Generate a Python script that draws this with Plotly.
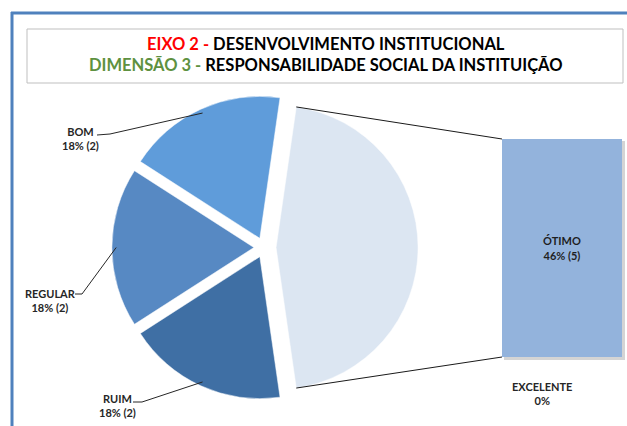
import math
import plotly.graph_objects as go

W, H = 627, 426

# dados
categorias = ["BOM", "REGULAR", "RUIM", "ÓTIMO", "EXCELENTE"]
respostas = [2, 2, 2, 5, 0]
percentuais = ["18%", "18%", "18%", "46%", "0%"]

# fatias da pizza (as duas últimas categorias vão para a barra)
pizza_labels = ["Outros", "RUIM", "REGULAR", "BOM"]
pizza_valores = [respostas[3] + respostas[4], respostas[2], respostas[1], respostas[0]]
pizza_cores = ["#DCE6F2", "#3F6FA4", "#5789C3", "#5F9CDA"]
pizza_pull = [0.085, 0.071, 0.071, 0.071]

barra_labels = ["ÓTIMO", "EXCELENTE"]
barra_valores = [respostas[3], respostas[4]]


def px(x):
    return x / W


def py(y):
    return 1 - y / H


total = sum(pizza_valores)
rotacao = 90 - 180 * pizza_valores[0] / total

# geometria da pizza em pixels
cx, cy, r = 264, 247.5, 142
meia = r * (1 + max(pizza_pull))

# geometria da barra em pixels
bx0, bx1, by0, by1 = 502, 622, 139, 357

fig = go.Figure()

fig.add_trace(go.Pie(
    labels=pizza_labels, values=pizza_valores, sort=False, direction="clockwise",
    rotation=rotacao, pull=pizza_pull, textinfo="none",
    marker=dict(colors=pizza_cores, line=dict(color="white", width=0.5)),
    domain=dict(x=[px(cx - meia), px(cx + meia)], y=[py(cy + meia), py(cy - meia)]),
    showlegend=False, hoverinfo="label+value+percent"
))

textos_barra = [f"<b>{barra_labels[0]}<br>{percentuais[3]} ({barra_valores[0]})</b>", ""]
for lab, val, txt in zip(barra_labels, barra_valores, textos_barra):
    fig.add_trace(go.Bar(
        x=["barra"], y=[val], name=lab, text=[txt], textposition="inside",
        insidetextanchor="middle", textfont=dict(family="Lato", size=11, color="#1F1F1F"),
        marker=dict(color="#93B3DC", line=dict(width=0)), showlegend=False
    ))


# ângulos das fatias (sentido horário a partir das 12h) -> ponto em pixels
def ponto_fatia(i, frac_raio):
    ini = rotacao + 360 * sum(pizza_valores[:i]) / total
    meio = ini + 180 * pizza_valores[i] / total
    a = math.radians(90 - meio)
    d = r * (pizza_pull[i] + frac_raio)
    return cx + d * math.cos(a), cy - d * math.sin(a)


def canto_outros(sinal):
    a = math.radians(sinal * 180 * pizza_valores[0] / total)
    ox = cx + r * pizza_pull[0]
    return ox + r * math.cos(a), cy - r * math.sin(a)


shapes = []
# moldura azul
shapes.append(dict(type="line", xref="paper", yref="paper", x0=px(12), x1=px(12), y0=py(12), y1=py(430),
                   line=dict(color="#4F81BD", width=3)))
shapes.append(dict(type="line", xref="paper", yref="paper", x0=px(11), x1=px(630), y0=py(13), y1=py(13),
                   line=dict(color="#4F81BD", width=3)))
# caixa do título
shapes.append(dict(type="rect", xref="paper", yref="paper", x0=px(27), x1=px(623), y0=py(83), y1=py(29),
                   line=dict(color="#BFBFBF", width=1)))
# sombra da barra
shapes.append(dict(type="rect", xref="paper", yref="paper", layer="below",
                   x0=px(bx0 + 2), x1=px(bx1 + 3), y0=py(by1 + 3), y1=py(by0 + 2),
                   line=dict(width=0), fillcolor="#D4D4D4"))
# ligações pizza -> barra
tx, ty = canto_outros(1)
shapes.append(dict(type="line", xref="paper", yref="paper", x0=px(tx), y0=py(ty), x1=px(bx0), y1=py(by0),
                   line=dict(color="#1A1A1A", width=1)))
bx, byy = canto_outros(-1)
shapes.append(dict(type="line", xref="paper", yref="paper", x0=px(bx), y0=py(byy), x1=px(bx0), y1=py(by1),
                   line=dict(color="#1A1A1A", width=1)))

# rótulos com linhas de chamada: (índice da fatia, centro do texto, início da linha)
rotulos = [
    (3, (80.5, 138), (97, 135), (110, 134)),
    (2, (50, 300), (75, 294), (82, 294)),
    (1, (117, 405.5), (133, 402), (142, 402)),
]
annotations = []
for i, (tx_, ty_), p0, p1 in rotulos:
    ex, ey = ponto_fatia(i, 0.97)
    shapes.append(dict(type="path", xref="paper", yref="paper",
                       path=f"M {px(p0[0])},{py(p0[1])} L {px(p1[0])},{py(p1[1])} L {px(ex)},{py(ey)}",
                       line=dict(color="#262626", width=1)))
    k = categorias.index(pizza_labels[i])
    annotations.append(dict(xref="paper", yref="paper", x=px(tx_), y=py(ty_), showarrow=False,
                            xanchor="center", yanchor="middle",
                            text=f"<b>{categorias[k]}<br>{percentuais[k]} ({respostas[k]})</b>",
                            font=dict(family="Lato", size=11, color="#262626"), align="center"))

annotations.append(dict(xref="paper", yref="paper", x=px(542), y=py(393.5), showarrow=False,
                        xanchor="center", yanchor="middle",
                        text=f"<b>{categorias[4]}<br>{percentuais[4]}</b>",
                        font=dict(family="Lato", size=11, color="#262626"), align="center"))

# título
annotations.append(dict(
    xref="paper", yref="paper", x=px(325), y=py(54.5), showarrow=False, align="center",
    xanchor="center", yanchor="middle",
    text=("<b><span style='color:#FF0000'>EIXO 2 - </span>DESENVOLVIMENTO INSTITUCIONAL<br>"
          "<span style='color:#5E9140'>DIMENSÃO 3 - </span>RESPONSABILIDADE SOCIAL DA INSTITUIÇÃO</b>"),
    font=dict(family="Lato", size=16.5, color="#000000")
))

fig.update_layout(
    width=W, height=H, margin=dict(l=0, r=0, t=0, b=0),
    paper_bgcolor="white", plot_bgcolor="rgba(0,0,0,0)",
    barmode="stack", bargap=0,
    xaxis=dict(domain=[px(bx0), px(bx1)], visible=False),
    yaxis=dict(domain=[py(by1), py(by0)], range=[0, sum(barra_valores)], visible=False),
    shapes=shapes, annotations=annotations
)

fig.write_html("out.html", config={"displayModeBar": False},
               post_script="document.body.style.margin='0px';document.body.style.overflow='hidden';")
